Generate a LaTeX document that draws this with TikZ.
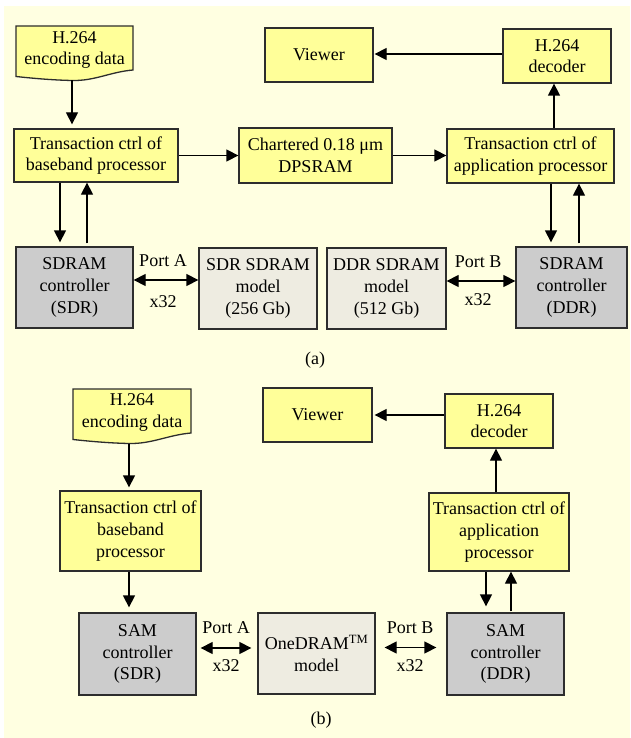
\documentclass[tikz,border=0pt]{standalone}
\usepackage{fontspec}
\setmainfont{Liberation Serif}
\usetikzlibrary{arrows.meta,calc}
\definecolor{bg}{RGB}{255,255,225}
\definecolor{ybox}{RGB}{255,255,153}
\definecolor{dgray}{RGB}{204,204,204}
\definecolor{lgray}{RGB}{238,236,225}
\definecolor{edge}{RGB}{45,45,45}
\begin{document}
\begin{tikzpicture}[x=1pt,y=-1pt,
  txt/.style={font=\fontsize{18}{21.7}\selectfont,align=center,inner sep=0pt},
  box/.style={txt,draw=edge,line width=1.3pt},
  yb/.style={box,fill=ybox},
  db/.style={box,fill=dgray},
  lb/.style={box,fill=lgray},
  arr/.style={-{Triangle[length=12pt,width=12pt]},line width=1.3pt},
  darr/.style={{Triangle[length=12pt,width=12pt]}-{Triangle[length=12pt,width=12pt]},line width=1.3pt},
  docshape/.style={fill=ybox,draw=edge,line width=1.3pt}
]
\useasboundingbox (0,0) rectangle (630,738);
\fill[bg] (4,6) rectangle (630,738);

% ---------------- (a) ----------------
\filldraw[docshape] (16,26) -- (133,26) -- (133,70) .. controls (110,72) and (95,81) .. (72,80.5) .. controls (50,80) and (30,78) .. (16,76.5) -- cycle;
\node[txt] (enc) at (74.5,50) {H.264\\encoding data};
\coordinate (encb) at (72,80.5);

\node[yb,minimum width=108pt,minimum height=54pt] (viewer) at (319,55) {Viewer};
\node[yb,minimum width=108pt,minimum height=54pt] (dec) at (557,56) {H.264\\decoder};
\node[yb,minimum width=164pt,minimum height=53pt] (bb) at (96,155.5) {Transaction ctrl of\\baseband processor};
\node[yb,minimum width=153pt,minimum height=55pt] (dps) at (315.5,155.5) {Chartered 0.18 μm\\DPSRAM};
\node[yb,minimum width=167pt,minimum height=54pt] (app) at (530.5,156) {Transaction ctrl of\\application processor};
\node[db,minimum width=117pt,minimum height=81pt] (sdr) at (74.5,287.5) {SDRAM\\controller\\(SDR)};
\node[lb,minimum width=118pt,minimum height=81pt] (sdrm) at (258,288.5) {SDR SDRAM\\model\\(256 Gb)};
\node[lb,minimum width=119pt,minimum height=81pt] (ddrm) at (386.5,288.5) {DDR SDRAM\\model\\(512 Gb)};
\node[db,minimum width=111pt,minimum height=81pt] (ddr) at (571.5,287.5) {SDRAM\\controller\\(DDR)};

\draw[arr,shorten >=4pt] (encb) -- (encb |- bb.north);
\draw[arr] (bb.east) -- (bb.east -| dps.west);
\draw[arr] (dps.east) -- (dps.east -| app.west);
\draw[arr] ([xshift=23.5pt]app.north) -- ([xshift=23.5pt]app.north |- dec.south);
\draw[arr,shorten >=1pt] ([yshift=2pt]dec.west) -- ([yshift=2pt]dec.west -| viewer.east);
\draw[arr,shorten >=4pt] ([xshift=-36pt]bb.south) -- ([xshift=-36pt]bb.south |- sdr.north);
\draw[arr,shorten <=3pt] ([xshift=-9pt]bb.south |- sdr.north) -- ([xshift=-9pt]bb.south);
\draw[arr,shorten >=4pt] ([xshift=20.5pt]app.south) -- ([xshift=20.5pt]app.south |- ddr.north);
\draw[arr,shorten <=3pt] ([xshift=48.5pt]app.south |- ddr.north) -- ([xshift=48.5pt]app.south);
\draw[darr] ([yshift=7.5pt]sdr.east) -- ([yshift=7.5pt]sdr.east -| sdrm.west);
\draw[darr] ([yshift=7.5pt]ddrm.east) -- ([yshift=7.5pt]ddrm.east -| ddr.west);
\node[txt] (pa) at (163,261) {Port A};
\node[txt] (xa) at (163,302) {x32};
\node[txt] (pb) at (478,262) {Port B};
\node[txt] (xb) at (478,300) {x32};
\node[txt] (capa) at (315,360) {(a)};

% ---------------- (b) ----------------
\filldraw[docshape] (73,389) -- (191,389) -- (191,433) .. controls (168,435) and (152,444) .. (129,443.5) .. controls (107,443) and (87,441) .. (73,439.5) -- cycle;
\node[txt] (enc2) at (132,412.5) {H.264\\encoding data};
\coordinate (encb2) at (129,443.5);

\node[yb,minimum width=109pt,minimum height=54pt] (viewer2) at (317.5,415) {Viewer};
\node[yb,minimum width=108pt,minimum height=54pt] (dec2) at (499,421) {H.264\\decoder};
\node[yb,minimum width=141pt,minimum height=80pt] (bb2) at (130.5,531) {Transaction ctrl of\\baseband\\processor};
\node[yb,minimum width=140pt,minimum height=78pt] (app2) at (499,532) {Transaction ctrl of\\application\\processor};
\node[db,minimum width=117pt,minimum height=82pt] (sam1) at (137.5,654) {SAM\\controller\\(SDR)};
\node[lb,minimum width=117pt,minimum height=81pt] (one) at (316.5,653.5) {OneDRAM\textsuperscript{TM}\\model};
\node[db,minimum width=117pt,minimum height=82pt] (sam2) at (505.5,654) {SAM\\controller\\(DDR)};

\draw[arr,shorten >=3pt] (encb2) -- (encb2 |- bb2.north);
\draw[arr] ([xshift=-3pt]app2.north) -- ([xshift=-3pt]app2.north |- dec2.south);
\draw[arr,shorten >=2pt] ([yshift=6pt]dec2.west) -- ([yshift=6pt]dec2.west -| viewer2.east);
\draw[arr,shorten >=5pt] ([xshift=-1.5pt]bb2.south) -- ([xshift=-1.5pt]bb2.south |- sam1.north);
\draw[arr,shorten >=6pt] ([xshift=-13pt]app2.south) -- ([xshift=-13pt]app2.south |- sam2.north);
\draw[arr,shorten <=1pt] ([xshift=12pt]app2.south |- sam2.north) -- ([xshift=12pt]app2.south);
\draw[darr,shorten <=4pt,shorten >=6pt] ([yshift=6pt]sam1.east) -- ([yshift=6pt]sam1.east -| one.west);
\draw[darr,shorten <=9pt,shorten >=10pt] ([yshift=6pt]one.east) -- ([yshift=6pt]one.east -| sam2.west);
\node[txt] (pa2) at (226,628) {Port A};
\node[txt] (xa2) at (226,666) {x32};
\node[txt] (pb2) at (410,628) {Port B};
\node[txt] (xb2) at (410,666) {x32};
\node[txt] (capb) at (321,720) {(b)};
\end{tikzpicture}
\end{document}
